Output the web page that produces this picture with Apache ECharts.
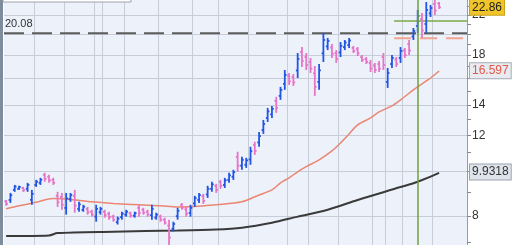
<!DOCTYPE html>
<html><head><meta charset="utf-8">
<script src="https://cdn.jsdelivr.net/npm/echarts@6/dist/echarts.min.js"></script>
<style>html,body{margin:0;padding:0;background:#fff}#c{width:520px;height:245px}</style>
</head><body><div id="c"></div>
<script>
// ---- data ----
const dates = [];
(function(){let d=new Date(Date.UTC(2016,0,4));while(dates.length<108){const w=d.getUTCDay();if(w>0&&w<6)dates.push(d.toISOString().slice(0,10));d.setUTCDate(d.getUTCDate()+1);}})();

const open = [8.61,8.67,9.12,9.17,9.21,9.17,8.67,9.35,9.45,9.84, 9.74,9.59,8.85,8.80,8.33,8.71,8.85,8.29,8.25,8.29, 8.17,7.97,8.15,8.17,8.09,7.97,7.75,7.95,8.05,8.11, 8.01,8.33,8.25,8.17,8.03,7.93,7.97,7.85,7.62,7.50, 7.99,8.46,8.27,8.12,8.52,8.67,8.83,8.91,9.17,9.31, 9.50,9.35,9.59,9.74,10.77,10.30,10.35,10.63,11.44,11.58, 12.33,13.10,13.34,14.28,14.64,15.55,16.19,16.10,16.64,18.26, 17.80,17.36,16.39,15.71,18.14,18.78,18.68,18.17,18.22,18.72, 18.91,18.65,18.54,17.80,17.63,17.28,17.06,17.19,17.80,15.71, 17.19,17.58,17.72,18.40,19.01,19.74,20.82,21.56,21.03,22.18, 23.26,23.31];
const high = [8.67,8.98,9.35,9.31,9.26,9.45,9.12,9.59,9.69,9.94, 9.84,9.69,9.03,8.98,8.98,8.98,9.12,8.59,8.46,8.37, 8.25,8.46,8.37,8.25,8.17,8.05,7.97,8.17,8.25,8.17, 8.17,8.46,8.33,8.25,8.46,8.13,8.05,7.93,7.85,7.77, 8.33,8.54,8.37,8.46,8.85,8.98,8.94,9.31,9.50,9.40, 9.59,9.69,9.94,10.09,11.05,10.77,10.72,11.33,11.62,12.21, 12.97,13.78,13.92,14.57,15.32,16.68,16.43,16.35,18.17,18.72, 18.17,17.72,17.02,17.19,20.08,19.60,19.01,18.44,19.20,19.40, 19.60,18.82,18.72,17.98,17.80,17.54,17.28,17.45,18.17,16.85, 17.98,17.80,18.72,18.63,19.40,20.61,22.56,22.22,23.49,23.14, 23.73,23.49];
const low = [8.42,8.54,9.03,9.12,9.03,9.03,8.46,9.26,9.35,9.50, 9.45,9.35,8.37,8.25,8.05,8.59,8.13,8.17,8.17,8.05, 7.97,7.77,8.05,7.93,7.85,7.77,7.66,7.85,7.97,7.93, 7.93,7.97,8.05,7.97,7.85,7.85,7.77,7.66,6.91,7.39, 7.85,8.25,7.97,7.97,8.37,8.54,8.50,8.76,9.03,8.98, 9.17,9.21,9.45,9.59,9.99,10.09,10.19,10.35,10.88,11.33, 12.09,12.84,13.10,13.44,14.35,15.09,15.47,15.39,16.02,16.93, 16.68,16.43,14.64,15.09,17.36,18.44,17.72,17.28,17.80,18.44, 18.63,18.17,17.89,17.36,17.19,16.51,16.43,16.51,16.68,15.24, 16.85,16.93,17.28,17.72,17.98,19.40,20.10,19.60,20.10,21.78, 22.00,22.68];
const close = [8.50,8.88,9.27,9.26,9.10,9.35,8.94,9.50,9.60,9.64, 9.56,9.45,8.57,8.46,8.74,8.89,8.42,8.48,8.38,8.15, 8.05,8.29,8.29,8.03,7.95,7.85,7.89,8.09,8.17,8.01, 8.11,8.12,8.13,8.05,8.29,8.05,7.85,7.73,7.17,7.68, 8.21,8.33,8.09,8.33,8.75,8.88,8.63,9.17,9.38,9.12, 9.31,9.57,9.81,9.97,10.30,10.61,10.58,11.08,11.10,11.96, 12.71,13.54,13.71,13.78,15.09,16.27,15.75,15.67,17.63,17.45, 17.10,16.80,15.32,16.64,19.40,19.30,18.09,17.63,18.82,19.15, 19.35,18.35,18.14,17.54,17.36,16.82,16.68,16.79,17.10,16.43, 17.72,17.19,18.35,17.98,18.40,20.30,21.89,20.35,22.56,22.79, 22.50,22.86];

const ma50Idx = [0,3,7,11,15,20,25,31,36,40,45,49,55,59,62,64,66,68,70,73,76,78,80,82,85,87,90,92,95,97,99,101];
const ma50Val = [8.29,8.42,8.57,8.73,8.69,8.59,8.52,8.46,8.42,8.37,8.40,8.46,8.59,8.89,9.12,9.45,9.69,9.99,10.25,10.61,11.10,11.55,12.09,12.65,13.10,13.51,13.92,14.35,15.09,15.55,16.02,16.597];
const ma200Idx = [0,10,12,25,40,49,55,62,68,75,82,92,96,101];
const ma200Val = [7.23,7.25,7.34,7.39,7.43,7.47,7.54,7.73,7.97,8.25,8.67,9.25,9.50,9.9318];

const levelVal = [20.08, 21.35, 19.57];
const levelStart = [0, 91, 91];
const levelKind = ['resist', 'target', 'stop'];
const signalIdx = 96;

const tickVals = [7,8,9,10,11,12,13,14,15,16,17,18,19,20,21,22,23];
const labelVals = [8,12,14,18,22];
const gridVals = [8,10,12,14,16,18,20,22];
const vGridIdx = [7,14,21,23,28,36,44,50,57,66,71,78,86,89,93,100];

// ---- chart ----
const L = Math.log;
const PX = 198.6, TOPV = L(22) + 15/PX, H = 245;
const FONT = '"Liberation Sans", Arial, sans-serif';
const BLUE = '#2155e6', PINK = '#e874c8';
const levelStyle = {
  resist: {stroke:'#5c5c5c', lineWidth:2, lineDash:[20,8]},
  target: {stroke:'#78a848', lineWidth:1.5},
  stop:   {stroke:'#f2a493', lineWidth:2, lineDash:[17,9]}
};
const hidden = {color:'rgba(0,0,0,0)', width:0};

const ohlc = open.map((o,i)=>[i, L(o), L(close[i]), L(low[i]), L(high[i])]);
const vset = new Set(vGridIdx);
const chart = echarts.init(document.getElementById('c'), null, {renderer:'canvas'});
chart.setOption({
  animation:false,
  backgroundColor:'#ffffff',
  textStyle:{fontFamily:FONT},
  grid:{left:4, right:53, top:0, bottom:0, show:true, backgroundColor:'#edf1fa', borderWidth:0},
  xAxis:{type:'category', data:dates, boundaryGap:true,
    axisLine:{show:false}, axisTick:{show:false}, axisLabel:{show:false},
    splitLine:{show:true, interval:(i)=>vset.has(i), lineStyle:{color:'#c6ccd8', width:1}}},
  yAxis:[
    {type:'value', position:'right', min:TOPV - H/PX, max:TOPV,
     axisLine:{show:true, lineStyle:{color:'#9c9c9c'}},
     axisTick:{show:true, length:4, customValues:tickVals.map(L), lineStyle:{color:'#8a8a8a'}},
     axisLabel:{show:true, customValues:labelVals.map(L), formatter:(v)=>String(Math.round(Math.exp(v))), color:'#333', fontSize:12, margin:5, fontFamily:FONT},
     splitLine:{show:false}},
    {type:'value', position:'right', min:TOPV - H/PX, max:TOPV,
     axisLine:{show:false}, axisLabel:{show:false},
     axisTick:{show:false, customValues:gridVals.map(L)},
     splitLine:{show:true, lineStyle:{color:'#c6ccd8', width:1}}}
  ],
  series:[
    {type:'line', name:'MA200', data:ma200Idx.map((x,i)=>[x, L(ma200Val[i])]), showSymbol:false, smooth:0.3, clip:false,
     lineStyle:{color:'#3a3a3a', width:2}, z:2,
     markLine:{silent:true, symbol:'none', lineStyle:hidden,
       label:{show:true, position:'end', distance:3, formatter:String(ma200Val[ma200Val.length-1]), color:'#333', fontSize:12, fontFamily:FONT,
         backgroundColor:'#dfe3ea', borderColor:'#9aa3b0', borderWidth:1, padding:[2,2,1,2]},
       data:[{yAxis:L(ma200Val[ma200Val.length-1])}]}},
    {type:'line', name:'MA50', data:ma50Idx.map((x,i)=>[x, L(ma50Val[i])]), showSymbol:false, smooth:0.3, clip:false,
     lineStyle:{color:'#ea8672', width:1.5}, z:2,
     markLine:{silent:true, symbol:'none', lineStyle:hidden,
       label:{show:true, position:'end', distance:3, formatter:String(ma50Val[ma50Val.length-1]), color:'#e2584a', fontSize:12, fontFamily:FONT,
         backgroundColor:'#e8ebf0', borderColor:'#a4abb7', borderWidth:1, padding:[2,2,1,2]},
       data:[{yAxis:L(ma50Val[ma50Val.length-1])}]}},
    {type:'custom', name:'levels', data:levelVal.map((v,i)=>[levelStart[i], L(v), i]), z:3,
     renderItem:function(params, api){
       const k = api.value(2);
       const p = api.coord([api.value(0), api.value(1)]);
       const half = api.size([1,0])[0]/2;
       const cs = params.coordSys;
       const x1 = p[0]-half, x2 = cs.x + cs.width;
       const kids = [{type:'line', shape:{x1:x1, y1:p[1], x2:x2, y2:p[1]}, style:levelStyle[levelKind[k]]}];
       if (levelKind[k]==='resist') kids.push({type:'text', x:x1+1, y:p[1]-4,
         style:{text:levelVal[k].toFixed(2), fill:'#333', font:'11px '+FONT, textVerticalAlign:'bottom'}});
       return {type:'group', children:kids};
     },
     markLine:{silent:true, symbol:'none', label:{show:false},
       lineStyle:{color:'#6f9f3e', width:1.5, type:'solid'},
       data:[{xAxis:dates[signalIdx]}]}},
    {type:'custom', name:'price', data:ohlc, z:4, clip:false,
     renderItem:function(params, api){
       const x = api.value(0);
       const o = api.coord([x, api.value(1)]);
       const c = api.coord([x, api.value(2)]);
       const l = api.coord([x, api.value(3)]);
       const h = api.coord([x, api.value(4)]);
       const w = Math.max(1.6, api.size([1,0])[0]*0.42);
       const col = api.value(2) >= api.value(1) ? BLUE : PINK;
       const st = {stroke:col, lineWidth:1.8};
       return {type:'group', children:[
         {type:'line', shape:{x1:h[0], y1:h[1], x2:l[0], y2:l[1]}, style:st},
         {type:'line', shape:{x1:o[0]-w, y1:o[1], x2:o[0], y2:o[1]}, style:st},
         {type:'line', shape:{x1:c[0], y1:c[1], x2:c[0]+w, y2:c[1]}, style:st}
       ]};
     },
     markLine:{silent:true, symbol:'none', lineStyle:hidden, z:10,
       label:{show:true, position:'end', distance:3, formatter:close[close.length-1].toFixed(2), color:'#222', fontSize:12, fontFamily:FONT,
         backgroundColor:'#f0c52a', borderColor:'#c9a11a', borderWidth:1, padding:[2,2,1,2]},
       data:[{yAxis:L(close[close.length-1])}]}}
  ],
  graphic:[
    {type:'rect', shape:{x:0, y:0, width:3, height:245}, style:{fill:'#7d8d9c'}, z:100},
    {type:'rect', shape:{x:3, y:-12, width:128, height:14}, style:{fill:'#ffffff', stroke:'#9ca3ab', lineWidth:1}, z:100}
  ]
});
</script></body></html>
